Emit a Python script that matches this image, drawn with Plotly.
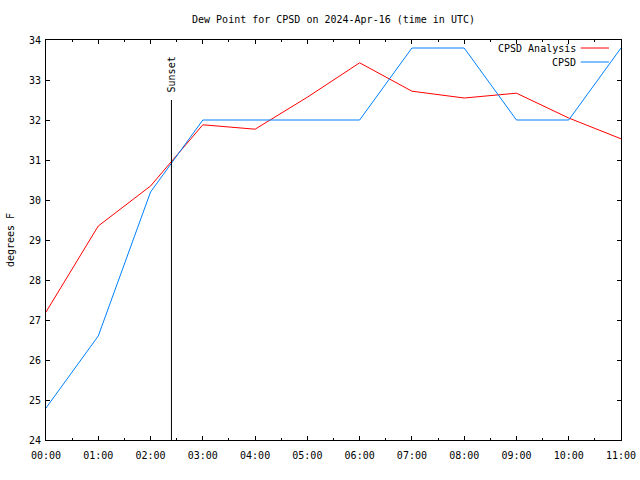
import plotly.graph_objects as go

times = ["2024-04-16 %02d:00" % h for h in range(12)]
analysis = [27.2, 29.35, 30.35, 31.88, 31.77, 32.57, 33.43, 32.72, 32.55, 32.67, 32.05, 31.53]
observed = [24.8, 26.6, 30.2, 32.0, 32.0, 32.0, 32.0, 33.8, 33.8, 32.0, 32.0, 33.8]
tick_labels = ["%02d:00" % h for h in range(12)]
sunset_time = "2024-04-16 02:24"
sunset_top = 32.5
series_names = ["CPSD Analysis", "CPSD"]
colors = ["#ff0000", "#0080ff"]

FONT = "DejaVu Sans Mono"
FS = 10

fig = go.Figure()
fig.add_trace(go.Scatter(x=times, y=analysis, mode="lines", name=series_names[0],
                         line=dict(color=colors[0], width=1), showlegend=False))
fig.add_trace(go.Scatter(x=times, y=observed, mode="lines", name=series_names[1],
                         line=dict(color=colors[1], width=1), showlegend=False))
# Sunset line
fig.add_trace(go.Scatter(x=[sunset_time, sunset_time], y=[24, sunset_top], mode="lines",
                         line=dict(color="black", width=1), showlegend=False, hoverinfo="skip"))
fig.add_annotation(x=sunset_time, y=sunset_top, xref="x", yref="y", text="Sunset",
                   textangle=-90, showarrow=False, yanchor="bottom", xanchor="center",
                   yshift=6, font=dict(family=FONT, size=FS, color="black"))

# Legend (text right, sample line to the right)
for i, (nm, c) in enumerate(zip(series_names, colors)):
    ypos = 0.98 - i * 0.035
    fig.add_annotation(x=0.922, y=ypos, xref="paper", yref="paper", text=nm, showarrow=False,
                       xanchor="right", yanchor="middle", xshift=2,
                       font=dict(family=FONT, size=FS, color="black"))
    fig.add_shape(type="line", xref="paper", yref="paper", x0=0.930, x1=0.979, y0=ypos, y1=ypos,
                  line=dict(color=c, width=1))

fig.update_layout(
    width=640, height=480,
    margin=dict(l=46, r=19, t=40, b=40),
    paper_bgcolor="white", plot_bgcolor="white",
    title=dict(text="Dew Point for CPSD on 2024-Apr-16 (time in UTC)", x=(46 + 621) / 2 / 640,
               xanchor="center", y=1 - 19 / 480, yanchor="middle",
               font=dict(family=FONT, size=FS, color="black")),
    font=dict(family=FONT, size=FS, color="black"),
    xaxis=dict(type="date", range=[times[0], times[-1]], tickvals=times, ticktext=tick_labels,
               ticks="inside", ticklen=4, tickcolor="black", showgrid=False, zeroline=False,
               showline=True, linecolor="black", linewidth=1, mirror="ticks", automargin=False,
               ticklabelstandoff=6,
               minor=dict(dtick=1800000, ticks="inside", ticklen=2, tickcolor="black", showgrid=False),
               tickfont=dict(family=FONT, size=FS)),
    yaxis=dict(range=[24, 34], dtick=1, ticks="inside", ticklen=4, tickcolor="black",
               showgrid=False, zeroline=False, showline=True, linecolor="black", linewidth=1,
               mirror="ticks", automargin=False, ticklabelstandoff=2,
               title=dict(text="degrees F", standoff=12, font=dict(family=FONT, size=FS)),
               tickfont=dict(family=FONT, size=FS)),
)

fig.write_html("out.html", config={"displayModeBar": False},
               post_script="document.body.style.margin='0';document.body.style.overflow='hidden';")
